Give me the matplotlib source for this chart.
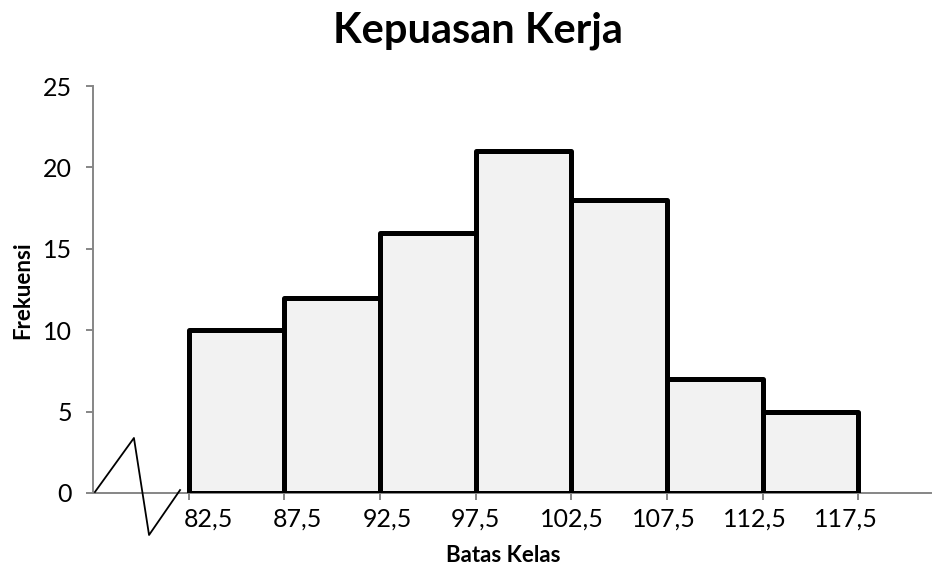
import numpy as np
import matplotlib
matplotlib.use("Agg")
from matplotlib import pyplot as plt
from matplotlib.transforms import ScaledTranslation

plt.rcParams['font.family'] = ['Lato', 'DejaVu Sans']

# class boundaries and frequencies
edges = [82.5, 87.5, 92.5, 97.5, 102.5, 107.5, 112.5, 117.5]
freq = [10, 12, 16, 21, 18, 7, 5]
edge_labels = ["82,5", "87,5", "92,5", "97,5", "102,5", "107,5", "112,5", "117,5"]
y_ticks = [0, 5, 10, 15, 20, 25]

fig = plt.figure(figsize=(9.46, 5.64), dpi=100)
ax = fig.add_axes([0.0983, 0.1259, 0.8858, 0.7216])

widths = np.diff(edges)
bars = ax.bar(edges[:-1], freq, width=widths, align='edge', color='#f2f2f2',
              edgecolor='black', linewidth=3.6, zorder=3)
for b in bars:
    b.set_joinstyle('round')

ax.set_xlim(77.5, 121.3)
ax.set_ylim(0, 25)
ax.set_xticks(edges)
ax.set_xticklabels([])
ax.set_yticks(y_ticks)
ax.set_yticklabels([str(v) for v in y_ticks], fontsize=18)

# boundary labels, each nudged sideways a few pixels off its tick
shifts = [20, 13, 7, 0, 1, -3, -8, -12]
for x, lab, dx in zip(edges, edge_labels, shifts):
    tr = ax.get_xaxis_transform() + ScaledTranslation(dx / 100, -15 / 100, fig.dpi_scale_trans)
    ax.text(x, 0, lab, transform=tr, fontsize=18, ha='center', va='top')

for side in ['top', 'right']:
    ax.spines[side].set_visible(False)
for side in ['left', 'bottom']:
    ax.spines[side].set_color('#868686')
    ax.spines[side].set_linewidth(1.4)
ax.tick_params(axis='both', colors='#868686', length=5, width=1.4, labelcolor='black')
ax.tick_params(axis='y', pad=10)

fig.text(503 / 946, 9 / 564, "Batas Kelas", fontsize=16, fontweight='bold',
         ha='center', va='center')
fig.text(23 / 946, 0.486, "Frekuensi", fontsize=16, fontweight='bold',
         ha='center', va='center', rotation=90)
fig.text(478 / 946, 1 - 31 / 564, "Kepuasan Kerja", fontsize=30, fontweight='bold',
         ha='center', va='center')

# axis break zigzag near the origin
zx = [77.6, 79.64, 80.43, 82.05]
zy = [0.06, 3.38, -2.58, 0.18]
ax.plot(zx, zy, color='black', linewidth=1.3, clip_on=False, zorder=4)

fig.savefig("out.png", dpi=100)
